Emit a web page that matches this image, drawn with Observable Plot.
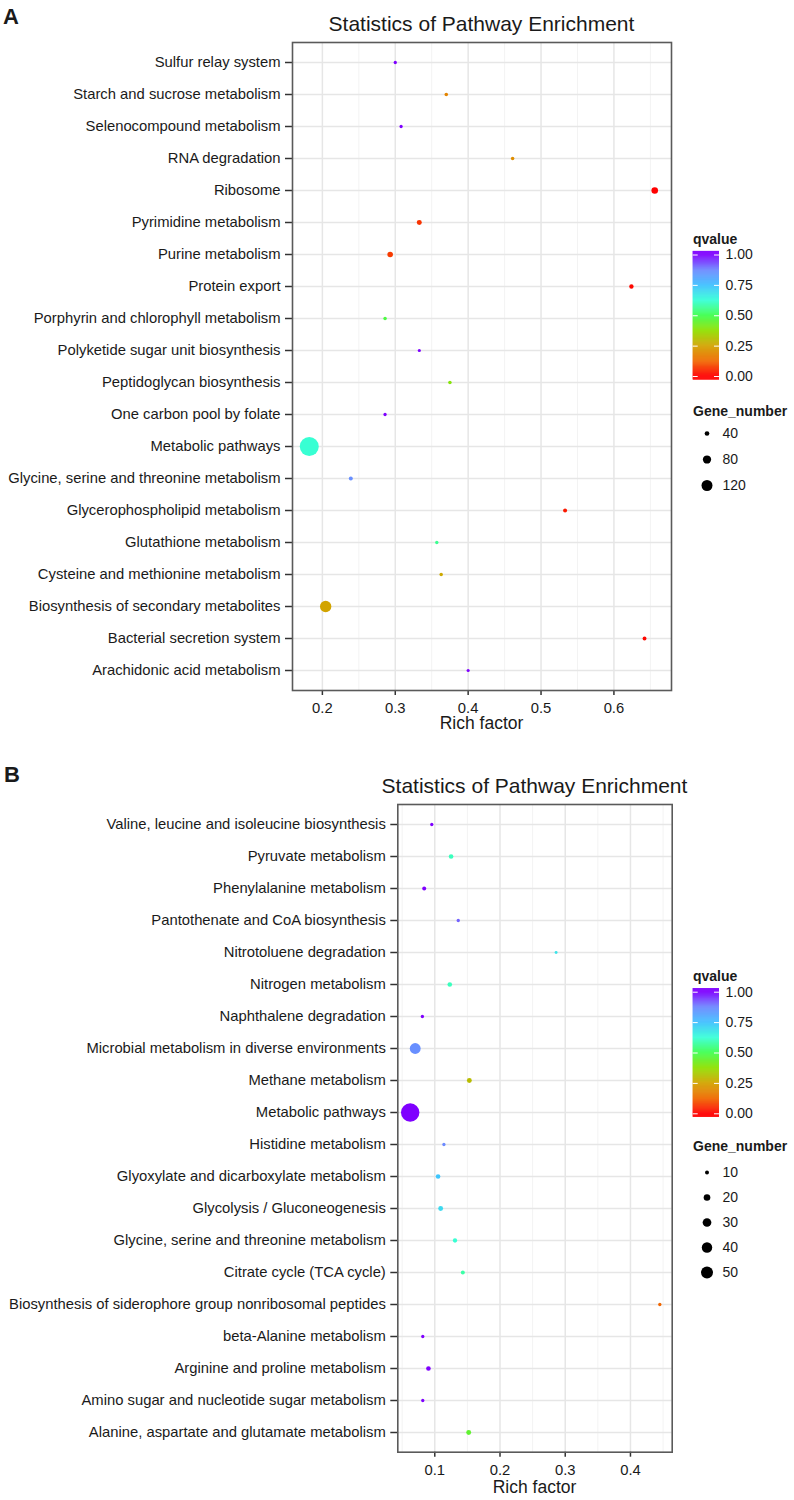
<!DOCTYPE html>
<html>
<head>
<meta charset="utf-8">
<script src="https://cdn.jsdelivr.net/npm/d3@7"></script>
<script src="https://cdn.jsdelivr.net/npm/@observablehq/plot@0.6"></script>
<style>
  body { margin: 0; background: #ffffff; }
  #page { position: relative; width: 794px; height: 1500px; background: #ffffff; overflow: hidden; }
  #page > svg { position: absolute; }
</style>
</head>
<body>
<div id="page"></div>
<script>
// ---------------- DATA ----------------
const pathwaysA = [
  "Sulfur relay system",
  "Starch and sucrose metabolism",
  "Selenocompound metabolism",
  "RNA degradation",
  "Ribosome",
  "Pyrimidine metabolism",
  "Purine metabolism",
  "Protein export",
  "Porphyrin and chlorophyll metabolism",
  "Polyketide sugar unit biosynthesis",
  "Peptidoglycan biosynthesis",
  "One carbon pool by folate",
  "Metabolic pathways",
  "Glycine, serine and threonine metabolism",
  "Glycerophospholipid metabolism",
  "Glutathione metabolism",
  "Cysteine and methionine metabolism",
  "Biosynthesis of secondary metabolites",
  "Bacterial secretion system",
  "Arachidonic acid metabolism"
];
const richA  = [0.300, 0.370, 0.308, 0.461, 0.656, 0.333, 0.293, 0.624, 0.286, 0.333,
                0.375, 0.286, 0.182, 0.239, 0.533, 0.357, 0.363, 0.2045, 0.642, 0.400];
const qvalA  = [1.00, 0.18, 1.00, 0.20, 0.00, 0.06, 0.07, 0.01, 0.48, 1.00,
                0.39, 1.00, 0.62, 0.86, 0.03, 0.56, 0.26, 0.25, 0.01, 1.00];
const genesA = [28, 30, 28, 30, 60, 43, 49, 37, 30, 27,
                30, 28, 283, 34, 34, 29, 30, 127, 33, 27];

const pathwaysB = [
  "Valine, leucine and isoleucine biosynthesis",
  "Pyruvate metabolism",
  "Phenylalanine metabolism",
  "Pantothenate and CoA biosynthesis",
  "Nitrotoluene degradation",
  "Nitrogen metabolism",
  "Naphthalene degradation",
  "Microbial metabolism in diverse environments",
  "Methane metabolism",
  "Metabolic pathways",
  "Histidine metabolism",
  "Glyoxylate and dicarboxylate metabolism",
  "Glycolysis / Gluconeogenesis",
  "Glycine, serine and threonine metabolism",
  "Citrate cycle (TCA cycle)",
  "Biosynthesis of siderophore group nonribosomal peptides",
  "beta-Alanine metabolism",
  "Arginine and proline metabolism",
  "Amino sugar and nucleotide sugar metabolism",
  "Alanine, aspartate and glutamate metabolism"
];
const richB  = [0.0954, 0.125, 0.0838, 0.136, 0.286, 0.123, 0.081, 0.070, 0.153, 0.0623,
                0.114, 0.105, 0.109, 0.131, 0.143, 0.445, 0.0816, 0.0903, 0.0816, 0.152];
const qvalB  = [1.00, 0.60, 1.00, 0.91, 0.68, 0.60, 1.00, 0.86, 0.30, 1.00,
                0.87, 0.74, 0.70, 0.62, 0.58, 0.12, 1.00, 1.00, 1.00, 0.45];
const genesB = [8, 12, 10, 8, 7, 12, 8, 43, 13, 105,
                8, 12, 13, 11, 10, 8, 8, 12, 8, 13];

// tick labels / legend breaks
const xTicksA = [0.2, 0.3, 0.4, 0.5, 0.6];
const xMinorA = [0.25, 0.35, 0.45, 0.55, 0.65];
const xTicksB = [0.1, 0.2, 0.3, 0.4];
const xMinorB = [0.05, 0.15, 0.25, 0.35, 0.45];
const qBreaks = [0, 0.25, 0.5, 0.75, 1];
const sizeBreaksA = [40, 80, 120];
const sizeBreaksB = [10, 20, 30, 40, 50];

const titleText = "Statistics of Pathway Enrichment";
const xLabelText = "Rich factor";
const colorLegendTitle = "qvalue";
const sizeLegendTitle = "Gene_number";

// qvalue colour gradient stops
const qStops  = [0, 0.125, 0.25, 0.375, 0.5, 0.625, 0.75, 0.875, 1];
const qColors = ["#FF0000", "#F06A00", "#D2A400", "#90E000", "#40FF50",
                 "#38FFD8", "#40C0FF", "#6E88FF", "#7F00FF"];

// ---------------- STYLE ----------------
const FONT = "'Liberation Sans', Arial, Helvetica, sans-serif";
const TEXT = "#1a1a1a";
const colorScale = {type: "linear", domain: qStops, range: qColors, interpolate: "rgb"};
const page = document.getElementById("page");

function place(svg, left, top) {
  svg.style.left = left + "px";
  svg.style.top = top + "px";
  page.appendChild(svg);
}

function mainPlot(cfg) {
  const rows = cfg.names.map((n, i) => ({name: n, rich: cfg.rich[i], q: cfg.q[i], genes: cfg.genes[i]}));
  return Plot.plot({
    width: 680,
    height: cfg.height,
    marginTop: cfg.frameTop - cfg.top,
    marginBottom: cfg.top + cfg.height - cfg.frameBottom,
    marginLeft: cfg.frameLeft,
    marginRight: 680 - cfg.frameRight,
    style: {fontFamily: FONT, fontSize: "14.8px", color: TEXT, background: "transparent", overflow: "visible"},
    x: {domain: cfg.xDomain, label: null},
    y: {type: "point", domain: cfg.names, padding: 0.6, label: null},
    r: {type: "sqrt", domain: cfg.rDomain, range: cfg.rRange},
    color: colorScale,
    marks: [
      Plot.gridX(cfg.minor, {stroke: "#f3f3f3", strokeOpacity: 1, strokeWidth: 1}),
      Plot.gridX(cfg.ticks, {stroke: "#e6e6e6", strokeOpacity: 1, strokeWidth: 1.5}),
      Plot.gridY(cfg.names, {stroke: "#e6e6e6", strokeOpacity: 1, strokeWidth: 1.5}),
      Plot.axisY({tickSize: 7, tickPadding: 5, fontSize: 14.8, stroke: "#333", strokeWidth: 1.5, fill: TEXT, label: null}),
      Plot.axisX(cfg.ticks, {tickSize: 5, tickPadding: 7, fontSize: 14.8, stroke: "#333", strokeWidth: 1.5, fill: TEXT,
                             tickFormat: d => d.toFixed(1), label: null}),
      Plot.dot(rows, {x: "rich", y: "name", r: "genes", fill: "q"}),
      Plot.frame({stroke: "#5a5a5a", strokeWidth: 1.6})
    ]
  });
}

function colorBar(top, yOne, yZero) {
  const lo = -0.03, hi = 1.03, step = 0.004;
  const slices = d3.range(lo, hi, step).map(v => ({
    v0: v, v1: Math.min(hi, v + step * 1.7), q: Math.max(0, Math.min(1, v + step / 2))
  }));
  return Plot.plot({
    width: 114, height: 160, margin: 0,
    style: {fontFamily: FONT, background: "transparent", overflow: "visible"},
    x: {type: "identity", axis: null},
    y: {domain: [0, 1], range: [yZero - top, yOne - top], axis: null},
    color: colorScale,
    marks: [
      Plot.rect(slices, {x1: 12.7, x2: 39, y1: "v0", y2: "v1", fill: "q"}),
      Plot.ruleY(qBreaks, {x1: 12.7, x2: 17.7, stroke: "white", strokeWidth: 1}),
      Plot.ruleY(qBreaks, {x1: 34, x2: 39, stroke: "white", strokeWidth: 1}),
      Plot.text(qBreaks, {x: 45, y: d => d, text: d => d.toFixed(2), textAnchor: "start", fontSize: 14, fill: TEXT})
    ]
  });
}

function sizeLegend(top, values, yFirst, yLast, rDomain, rRange) {
  return Plot.plot({
    width: 114, height: 160, margin: 0,
    style: {fontFamily: FONT, background: "transparent", overflow: "visible"},
    x: {type: "identity", axis: null},
    y: {type: "point", domain: values, range: [yFirst - top, yLast - top], padding: 0, axis: null},
    r: {type: "sqrt", domain: rDomain, range: rRange},
    marks: [
      Plot.dot(values, {x: 26.5, y: d => d, r: d => d, fill: "black"}),
      Plot.text(values, {x: 42, y: d => d, text: d => String(d), textAnchor: "start", fontSize: 14, fill: TEXT})
    ]
  });
}

// ---------------- PANEL A ----------------
const rDomainA = [26, 283], rRangeA = [1.5, 9.5];
place(mainPlot({
  names: pathwaysA, rich: richA, q: qvalA, genes: genesA,
  top: 0, height: 720, frameTop: 42, frameBottom: 690, frameLeft: 292, frameRight: 671,
  xDomain: [0.159, 0.679], ticks: xTicksA, minor: xMinorA,
  rDomain: rDomainA, rRange: rRangeA
}), 0, 0);
place(colorBar(240, 254.5, 376), 680, 240);
place(sizeLegend(420, sizeBreaksA, 433, 485.5, rDomainA, rRangeA), 680, 420);

// ---------------- PANEL B ----------------
const rDomainB = [7, 105], rRangeB = [1.47, 9.22];
place(mainPlot({
  names: pathwaysB, rich: richB, q: qvalB, genes: genesB,
  top: 762, height: 720, frameTop: 804, frameBottom: 1451.7, frameLeft: 397.3, frameRight: 671.7,
  xDomain: [0.0433, 0.464], ticks: xTicksB, minor: xMinorB,
  rDomain: rDomainB, rRange: rRangeB
}), 0, 762);
place(colorBar(976, 991.7, 1113.3), 680, 976);
place(sizeLegend(1155, sizeBreaksB, 1170, 1273, rDomainB, rRangeB), 680, 1155);

// ---------------- TEXT OVERLAY ----------------
const overlay = d3.create("svg")
  .attr("width", 794).attr("height", 1500)
  .style("left", "0px").style("top", "0px")
  .style("font-family", FONT).style("pointer-events", "none");
const texts = [
  {t: "A", x: 3, y: 24, size: 22, weight: "bold", anchor: "start"},
  {t: titleText, x: 481.5, y: 31, size: 21, weight: "normal", anchor: "middle"},
  {t: xLabelText, x: 481.5, y: 729, size: 17.5, weight: "normal", anchor: "middle"},
  {t: colorLegendTitle, x: 693, y: 244, size: 14, weight: "bold", anchor: "start"},
  {t: sizeLegendTitle, x: 693, y: 415.5, size: 14, weight: "bold", anchor: "start"},
  {t: "B", x: 4, y: 782, size: 22, weight: "bold", anchor: "start"},
  {t: titleText, x: 534.5, y: 793, size: 21, weight: "normal", anchor: "middle"},
  {t: xLabelText, x: 534.5, y: 1493, size: 17.5, weight: "normal", anchor: "middle"},
  {t: colorLegendTitle, x: 693, y: 980.5, size: 14, weight: "bold", anchor: "start"},
  {t: sizeLegendTitle, x: 693, y: 1150.5, size: 14, weight: "bold", anchor: "start"}
];
overlay.selectAll("text").data(texts).join("text")
  .attr("x", d => d.x).attr("y", d => d.y)
  .attr("text-anchor", d => d.anchor)
  .attr("font-size", d => d.size)
  .attr("font-weight", d => d.weight)
  .attr("fill", TEXT)
  .text(d => d.t);
page.appendChild(overlay.node());
</script>
</body>
</html>
